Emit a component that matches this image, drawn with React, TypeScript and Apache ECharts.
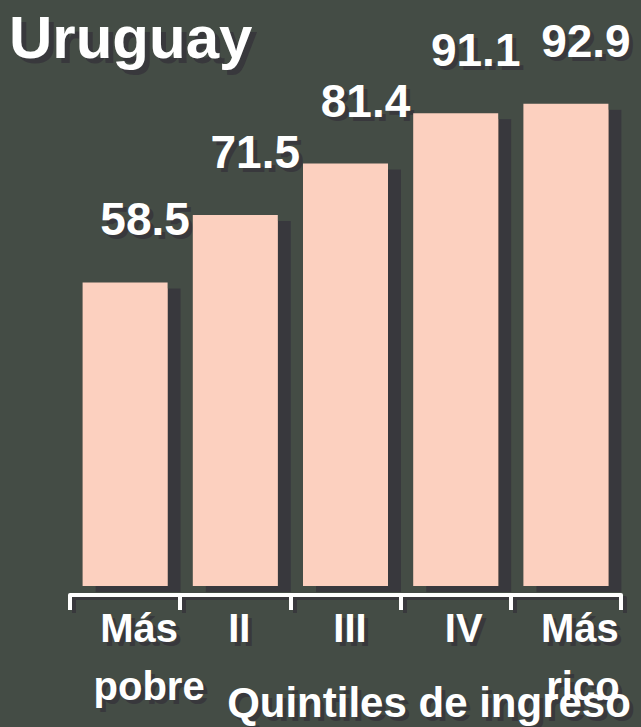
import React, { useEffect, useRef } from "react";
import * as echarts from "echarts";

const title = "Uruguay";
const axisName = "Quintiles de ingreso";
const categories = ["Más\npobre", "II", "III", "IV", "Más\nrico"];
const values = [58.5, 71.5, 81.4, 91.1, 92.9];

// per-category label shift (left padding, px) for first and second line
const labelShift = [
  [28, 48],
  [8, 8],
  [9, 9],
  [16, 16],
  [28, 34],
];

const BG = "#444c45";
const BAR = "#fcd0bf";
const SHADOW = "#38383c";
const FONT = "'Liberation Sans', Arial, Helvetica, sans-serif";

function buildRich(color: string) {
  const rich: any = {};
  labelShift.forEach((s, i) => {
    ["a", "b"].forEach((k, j) => {
      rich[k + i] = {
        fontSize: 40,
        fontWeight: "bold",
        fontFamily: FONT,
        color,
        lineHeight: 58,
        padding: [0, 0, 0, s[j]],
      };
    });
  });
  return rich;
}

const fmt = (v: string, i: number) =>
  v
    .split("\n")
    .map((p, k) => `{${k === 0 ? "a" : "b"}${i}|${p}}`)
    .join("\n");

function makeXAxis(gridIndex: number, color: string, margin: number, z: number) {
  return {
    type: "category",
    gridIndex,
    data: categories,
    offset: 9,
    z,
    axisLine: { show: true, onZero: false, lineStyle: { color, width: 4 } },
    axisTick: {
      show: true,
      alignWithLabel: false,
      interval: 0,
      length: 15,
      lineStyle: { color, width: 4 },
    },
    axisLabel: {
      interval: 0,
      margin,
      verticalAlign: "top",
      formatter: fmt,
      rich: buildRich(color),
    },
  };
}

export default function App() {
  const ref = useRef<HTMLDivElement>(null);
  useEffect(() => {
    if (!ref.current) return;
    const chart = echarts.init(ref.current, undefined, { renderer: "svg" });
    const titleStyle = (color: string) => ({
      fontSize: 60,
      fontWeight: "bold",
      fontFamily: FONT,
      color,
    });
    const labelStyle = (color: string) => ({
      show: true,
      position: "top",
      distance: 40,
      fontSize: 46,
      fontWeight: "bold",
      fontFamily: FONT,
      color,
    });
    chart.setOption({
      animation: false,
      backgroundColor: BG,
      title: [
        { text: title, left: 14, top: 12, padding: 0, textStyle: titleStyle(SHADOW) },
        { text: title, left: 9, top: 7, padding: 0, textStyle: titleStyle("#fff") },
      ],
      grid: [
        { left: 70, right: 20, top: 67, bottom: 141, containLabel: false },
        { left: 74, right: 16, top: 70, bottom: 138, containLabel: false },
      ],
      xAxis: [makeXAxis(0, "#fff", 4, 1), makeXAxis(1, SHADOW, 5, 0)],
      yAxis: [
        { type: "value", gridIndex: 0, min: 0, max: 100, show: false },
        { type: "value", gridIndex: 1, min: 0, max: 100, show: false },
      ],
      graphic: [
        {
          type: "text",
          x: 433,
          y: 706,
          z: 0,
          style: {
            text: axisName,
            fontSize: 42,
            fontWeight: "bold",
            fontFamily: FONT,
            fill: SHADOW,
            align: "center",
            verticalAlign: "middle",
          },
        },
        {
          type: "text",
          x: 429,
          y: 702,
          z: 1,
          style: {
            text: axisName,
            fontSize: 42,
            fontWeight: "bold",
            fontFamily: FONT,
            fill: "#fff",
            align: "center",
            verticalAlign: "middle",
          },
        },
      ],
      series: [
        {
          type: "bar",
          xAxisIndex: 0,
          yAxisIndex: 0,
          data: values,
          barWidth: 85,
          barGap: "-100%",
          z: 1,
          silent: true,
          itemStyle: { color: "rgba(0,0,0,0)" },
          label: { ...labelStyle(SHADOW), offset: [24, 4] },
        },
        {
          type: "bar",
          xAxisIndex: 0,
          yAxisIndex: 0,
          data: values,
          barWidth: 85,
          barGap: "-100%",
          z: 2,
          itemStyle: {
            color: BAR,
            shadowColor: SHADOW,
            shadowBlur: 0,
            shadowOffsetX: 13,
            shadowOffsetY: 6,
          },
          label: { ...labelStyle("#fff"), offset: [20, 0] },
        },
      ],
    });
    return () => chart.dispose();
  }, []);
  return <div ref={ref} style={{ width: 641, height: 727, position: "absolute", left: 0, top: 0 }} />;
}
